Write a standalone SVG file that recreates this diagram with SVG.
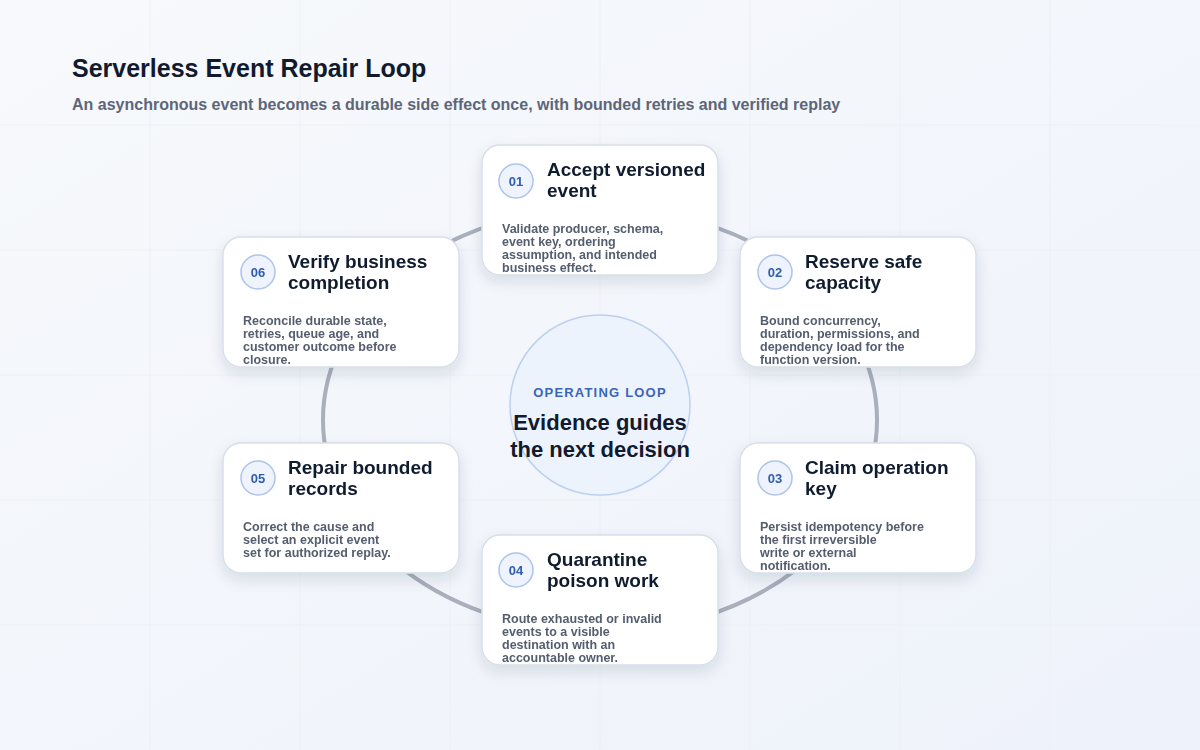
<svg xmlns="http://www.w3.org/2000/svg" width="1200" height="750" viewBox="0 0 1200 750">
<defs>
<linearGradient id="bg" x1="0" y1="0" x2="1" y2="1"><stop offset="0" stop-color="#f7f9fc"/><stop offset="1" stop-color="#eef2fa"/></linearGradient>
<filter id="sh" x="-20%" y="-20%" width="140%" height="150%"><feDropShadow dx="0" dy="6" stdDeviation="7" flood-color="#1e2a4a" flood-opacity="0.12"/></filter>
<style>
.t{font-family:"Liberation Sans",Arial,sans-serif}
.card{fill:#fff;stroke:#d8deea;stroke-width:1.5}
.badge{fill:#eef3fd;stroke:#aec4ec;stroke-width:1.5}
.bn{font-family:"Liberation Sans",Arial,sans-serif;font-size:13px;font-weight:700;fill:#2f5cb0;text-anchor:middle}
.ti{font-family:"Liberation Sans",Arial,sans-serif;font-size:19px;font-weight:700;fill:#111a2e}
.bd{font-family:"Liberation Sans",Arial,sans-serif;font-size:12.5px;font-weight:700;fill:#545d6e}
.grid{stroke:#edf0f6;stroke-width:1}
</style>
</defs>
<rect width="1200" height="750" fill="url(#bg)"/>
<g class="grid">
<line x1="150" y1="0" x2="150" y2="750"/><line x1="300" y1="0" x2="300" y2="750"/><line x1="450" y1="0" x2="450" y2="750"/><line x1="600" y1="0" x2="600" y2="750"/><line x1="750" y1="0" x2="750" y2="750"/><line x1="900" y1="0" x2="900" y2="750"/><line x1="1050" y1="0" x2="1050" y2="750"/>
<line x1="0" y1="125" x2="1200" y2="125"/><line x1="0" y1="250" x2="1200" y2="250"/><line x1="0" y1="375" x2="1200" y2="375"/><line x1="0" y1="500" x2="1200" y2="500"/><line x1="0" y1="625" x2="1200" y2="625"/>
</g>
<text class="t" x="72" y="77" font-size="25" font-weight="700" fill="#111a2e">Serverless Event Repair Loop</text>
<text class="t" x="72" y="110" font-size="16" font-weight="700" fill="#5d6678">An asynchronous event becomes a durable side effect once, with bounded retries and verified replay</text>
<g id="connectors">
<ellipse cx="600" cy="420" rx="277" ry="212" fill="none" stroke="#a9afbb" stroke-width="4"/>
</g>
<g id="center">
<circle cx="600" cy="405" r="90" fill="#edf3fd" stroke="#bcd0f0" stroke-width="1.5"/>
<text class="t" x="600" y="397" font-size="13" font-weight="700" fill="#3a66b8" text-anchor="middle" letter-spacing="1.2">OPERATING LOOP</text>
<text class="t" x="600" y="430" font-size="22" font-weight="700" fill="#111a2e" text-anchor="middle">Evidence guides</text>
<text class="t" x="600" y="457" font-size="22" font-weight="700" fill="#111a2e" text-anchor="middle">the next decision</text>
</g>
<g id="n1" transform="translate(482,145)" filter="url(#sh)">
<rect class="card" width="236" height="130" rx="18"/>
<circle class="badge" cx="34" cy="36" r="17"/><text class="bn" x="34" y="41">01</text>
<text class="ti" x="65" y="31">Accept versioned</text><text class="ti" x="65" y="52">event</text>
<text class="bd" x="20" y="88">Validate producer, schema,</text><text class="bd" x="20" y="101">event key, ordering</text><text class="bd" x="20" y="114">assumption, and intended</text><text class="bd" x="20" y="127">business effect.</text>
</g>
<g id="n2" transform="translate(740,237)" filter="url(#sh)">
<rect class="card" width="236" height="130" rx="18"/>
<circle class="badge" cx="35" cy="35" r="17"/><text class="bn" x="35" y="40">02</text>
<text class="ti" x="65" y="31">Reserve safe</text><text class="ti" x="65" y="52">capacity</text>
<text class="bd" x="20" y="88">Bound concurrency,</text><text class="bd" x="20" y="101">duration, permissions, and</text><text class="bd" x="20" y="114">dependency load for the</text><text class="bd" x="20" y="127">function version.</text>
</g>
<g id="n3" transform="translate(740,443)" filter="url(#sh)">
<rect class="card" width="236" height="130" rx="18"/>
<circle class="badge" cx="35" cy="35" r="17"/><text class="bn" x="35" y="40">03</text>
<text class="ti" x="65" y="31">Claim operation</text><text class="ti" x="65" y="52">key</text>
<text class="bd" x="20" y="88">Persist idempotency before</text><text class="bd" x="20" y="101">the first irreversible</text><text class="bd" x="20" y="114">write or external</text><text class="bd" x="20" y="127">notification.</text>
</g>
<g id="n4" transform="translate(482,535)" filter="url(#sh)">
<rect class="card" width="236" height="130" rx="18"/>
<circle class="badge" cx="34" cy="35" r="17"/><text class="bn" x="34" y="40">04</text>
<text class="ti" x="65" y="31">Quarantine</text><text class="ti" x="65" y="52">poison work</text>
<text class="bd" x="20" y="88">Route exhausted or invalid</text><text class="bd" x="20" y="101">events to a visible</text><text class="bd" x="20" y="114">destination with an</text><text class="bd" x="20" y="127">accountable owner.</text>
</g>
<g id="n5" transform="translate(223,443)" filter="url(#sh)">
<rect class="card" width="236" height="130" rx="18"/>
<circle class="badge" cx="35" cy="35" r="17"/><text class="bn" x="35" y="40">05</text>
<text class="ti" x="65" y="31">Repair bounded</text><text class="ti" x="65" y="52">records</text>
<text class="bd" x="20" y="88">Correct the cause and</text><text class="bd" x="20" y="101">select an explicit event</text><text class="bd" x="20" y="114">set for authorized replay.</text>
</g>
<g id="n6" transform="translate(223,237)" filter="url(#sh)">
<rect class="card" width="236" height="130" rx="18"/>
<circle class="badge" cx="35" cy="35" r="17"/><text class="bn" x="35" y="40">06</text>
<text class="ti" x="65" y="31">Verify business</text><text class="ti" x="65" y="52">completion</text>
<text class="bd" x="20" y="88">Reconcile durable state,</text><text class="bd" x="20" y="101">retries, queue age, and</text><text class="bd" x="20" y="114">customer outcome before</text><text class="bd" x="20" y="127">closure.</text>
</g>
</svg>
